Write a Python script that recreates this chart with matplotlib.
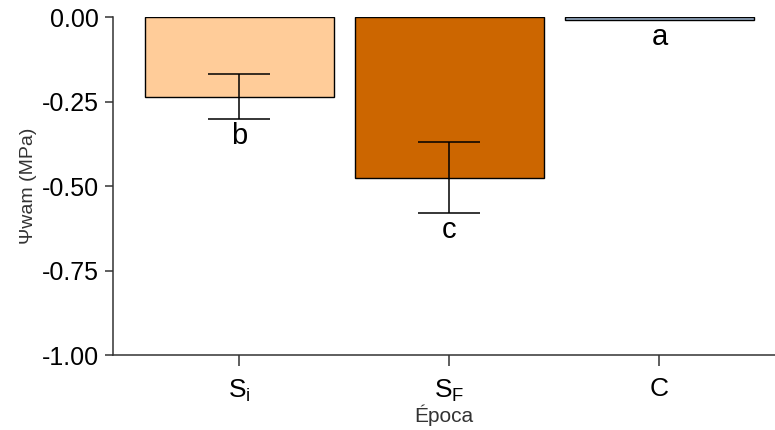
import matplotlib
matplotlib.use("Agg")
import matplotlib.pyplot as plt

# water potential by season, mean +/- SE
epocas = [r'$\mathregular{S_i}$', r'$\mathregular{S_F}$', 'C']
psi_mean = [-0.235, -0.475, -0.008]
psi_se = [0.067, 0.105, 0.0]
letras = ['b', 'c', 'a']
colores = ['#FFCC99', '#CC6600', '#9DB4CE']

plt.rcParams['font.family'] = ['Liberation Sans', 'DejaVu Sans']

fig = plt.figure(figsize=(7.75, 4.3), dpi=100)
ax = fig.add_axes([0.146, 0.174, 0.854, 0.786])

x = range(len(epocas))
ax.bar(x, psi_mean, width=0.9, color=colores, edgecolor='black', linewidth=1.0, zorder=2)
ax.errorbar([0, 1], psi_mean[:2], yerr=psi_se[:2], fmt='none', ecolor='black',
            elinewidth=1.1, capsize=22.5, capthick=1.1, zorder=3)

# significance letters just below each bar / error bar
for i, (m, s, l) in enumerate(zip(psi_mean, psi_se, letras)):
    ax.text(i, m - s - 0.008, l, ha='center', va='top', fontsize=21, color='black')

ax.set_ylim(-1.0, 0.0)
ax.set_xlim(-0.6, 2.55)
ax.set_yticks([0.0, -0.25, -0.5, -0.75, -1.0])
ax.set_yticklabels(['0.00', '-0.25', '-0.50', '-0.75', '-1.00'])
ax.set_xticks(list(x))
ax.set_xticklabels(epocas)

for side in ['top', 'right']:
    ax.spines[side].set_visible(False)
for side in ['left', 'bottom']:
    ax.spines[side].set_color('#333333')
    ax.spines[side].set_linewidth(1.1)
ax.tick_params(axis='y', labelsize=18, colors='#333333', labelcolor='black',
               length=6, width=1.1, pad=4)
ax.tick_params(axis='x', labelsize=19, colors='#333333', labelcolor='black',
               length=8, width=1.1, pad=8)

ax.set_ylabel('Ψwam (MPa)', fontsize=14, color='#333333', labelpad=4)
ax.set_xlabel('Época', fontsize=15, color='#333333', labelpad=1)

fig.savefig('out.png', dpi=100)
